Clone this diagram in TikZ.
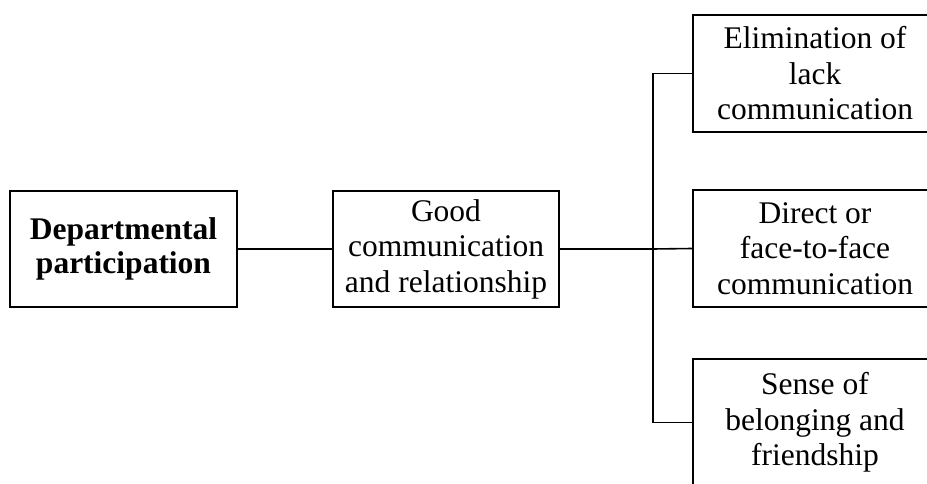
\documentclass[tikz,border=0pt]{standalone}
\usepackage{fontspec}
\setmainfont{Liberation Serif}
\begin{document}
\begin{tikzpicture}[x=1pt,y=-1pt,
  box/.style={draw, line width=1.8pt, align=center, inner sep=0pt,
    font=\fontsize{31.5}{35.5}\selectfont},
  leaf/.style={box, minimum width=244pt, minimum height=117pt},
  link/.style={line width=1.6pt}]
\useasboundingbox (0,0) rectangle (927,484);
\clip (0,0) rectangle (927,484);

% main boxes
\node[box, minimum width=227pt, minimum height=116pt,
  font=\fontsize{31.5}{34}\selectfont\bfseries] (dep) at (123.5,249)
  {Departmental\\participation};
\node[box, minimum width=226pt, minimum height=116pt] (good) at (446,249)
  {Good\\communication\\and relationship};

% branches
\node[leaf] (elim) at (815,73.5) {Elimination of\\lack\\communication};
\node[leaf] (direct) at (815,248.5) {Direct or\\face-to-face\\communication};
\node[leaf, minimum height=127pt] (sense) at (815,422.5)
  {Sense of\\belonging and\\friendship};

% connectors
\coordinate (spine) at (653,249);
\draw[link] (dep) -- (good);
\draw[link] (good.east) -- (spine) -- (direct.west);
\draw[link] (elim.west) -| (spine) |- (sense.west);
\end{tikzpicture}
\end{document}
